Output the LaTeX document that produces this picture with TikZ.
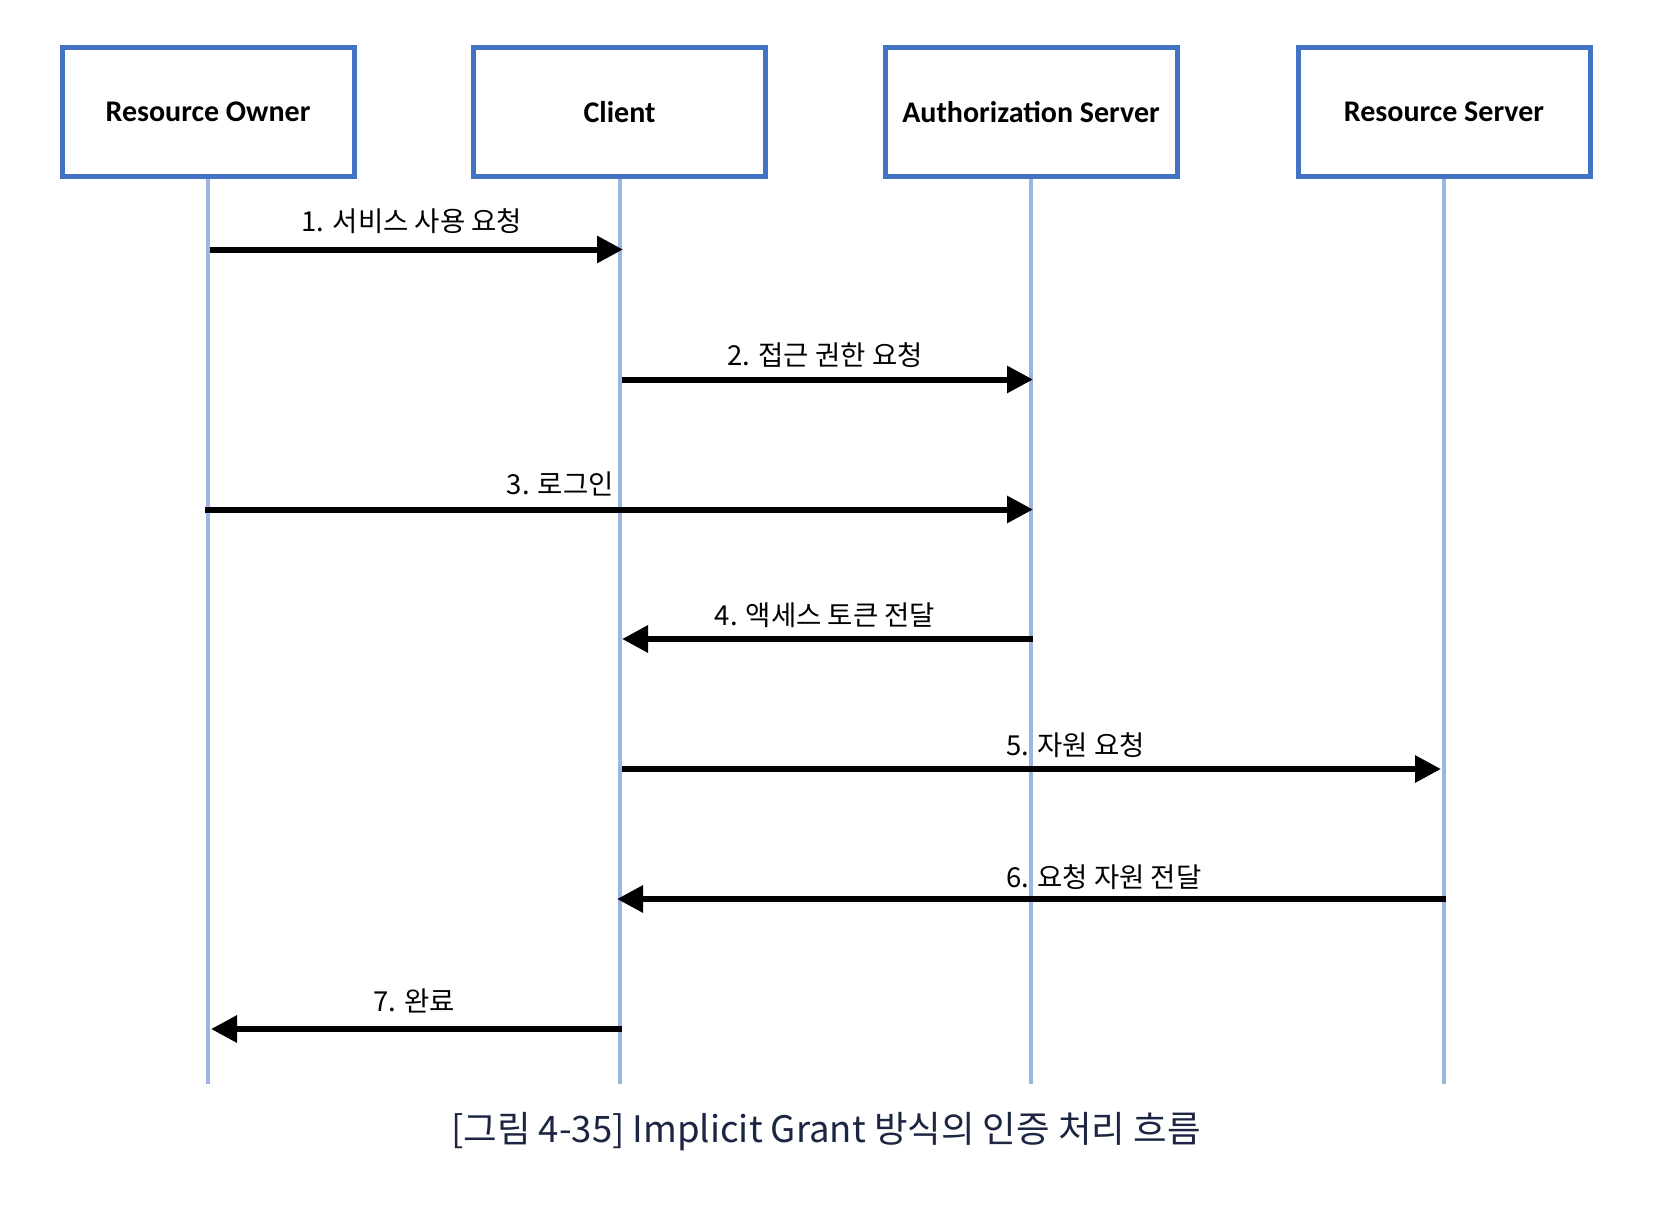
\documentclass[tikz,border=0pt]{standalone}
\usepackage{fontspec}
\newfontfamily\boxfont{Carlito}
\newfontfamily\kr{Noto Sans CJK KR}
\usetikzlibrary{arrows.meta}
\definecolor{boxblue}{HTML}{4472C4}
\definecolor{lifeblue}{HTML}{9DB5E1}
\definecolor{captcol}{HTML}{1C2541}
\begin{document}
\begin{tikzpicture}[x=1pt,y=-1pt,
 actor/.style={draw=boxblue,line width=5pt,minimum width=292pt,minimum height=129pt,
   font=\boxfont\bfseries\fontsize{30}{35}\selectfont,inner sep=0pt},
 lifeline/.style={draw=lifeblue,line width=4pt},
 msg/.style={line width=6pt,-{Triangle[length=26pt,width=26pt]}},
 lbl/.style={font=\kr\fontsize{27.5}{32}\selectfont,inner sep=0pt,anchor=base}]
\fill[white] (0,0) rectangle (1655,1220);
\useasboundingbox (0,0) rectangle (1655,1220);
% lifeline ends
\coordinate (roe) at (208,1084);
\coordinate (cle) at (619.5,1084);
\coordinate (ase) at (1031,1084);
\coordinate (rse) at (1444,1084);
% actors
\node[actor] (ro) at (208,112) {Resource Owner};
\node[actor] (cl) at (619.5,112) {Client};
\node[actor] (as) at (1031,112) {Authorization Server};
\node[actor] (rs) at (1444,112) {Resource Server};
\draw[lifeline] (ro.south) -- (roe);
\draw[lifeline] (cl.south) -- (cle);
\draw[lifeline] (as.south) -- (ase);
\draw[lifeline] (rs.south) -- (rse);
% message endpoints
\coordinate (m1s) at (210,249.5); \coordinate (m1e) at (623,249.5);
\coordinate (m2s) at (622,379.5); \coordinate (m2e) at (1033,379.5);
\coordinate (m3s) at (205,509.5); \coordinate (m3e) at (1033,509.5);
\coordinate (m4s) at (1033,639);  \coordinate (m4e) at (622,639);
\coordinate (m5s) at (622,769);   \coordinate (m5e) at (1441,769);
\coordinate (m6s) at (1446,899);  \coordinate (m6e) at (617,899);
\coordinate (m7s) at (622,1029);  \coordinate (m7e) at (211,1029);
\draw[msg] (m1s) -- (m1e);
\draw[msg] (m2s) -- (m2e);
\draw[msg] (m3s) -- (m3e);
\draw[msg] (m4s) -- (m4e);
\draw[msg] (m5s) -- (m5e);
\draw[msg] (m6s) -- (m6e);
\draw[msg] (m7s) -- (m7e);
% labels
\node[lbl] (l1) at (412,231) {1. 서비스 사용 요청};
\node[lbl] (l2) at (825,365) {2. 접근 권한 요청};
\node[lbl,anchor=base east] (l3) at (614,494) {3. 로그인};
\node[lbl] (l4) at (825,625) {4. 액세스 토큰 전달};
\node[lbl,anchor=base west] (l5) at (1006,755) {5. 자원 요청};
\node[lbl,anchor=base west] (l6) at (1006,887) {6. 요청 자원 전달};
\node[lbl] (l7) at (414,1011.5) {7. 완료};
% caption
\node[font=\kr\fontsize{36.5}{42}\selectfont,text=captcol,anchor=base,inner sep=0pt] (cap) at (826,1142)
  {[그림 4-35] Implicit Grant 방식의 인증 처리 흐름};
\end{tikzpicture}
\end{document}
